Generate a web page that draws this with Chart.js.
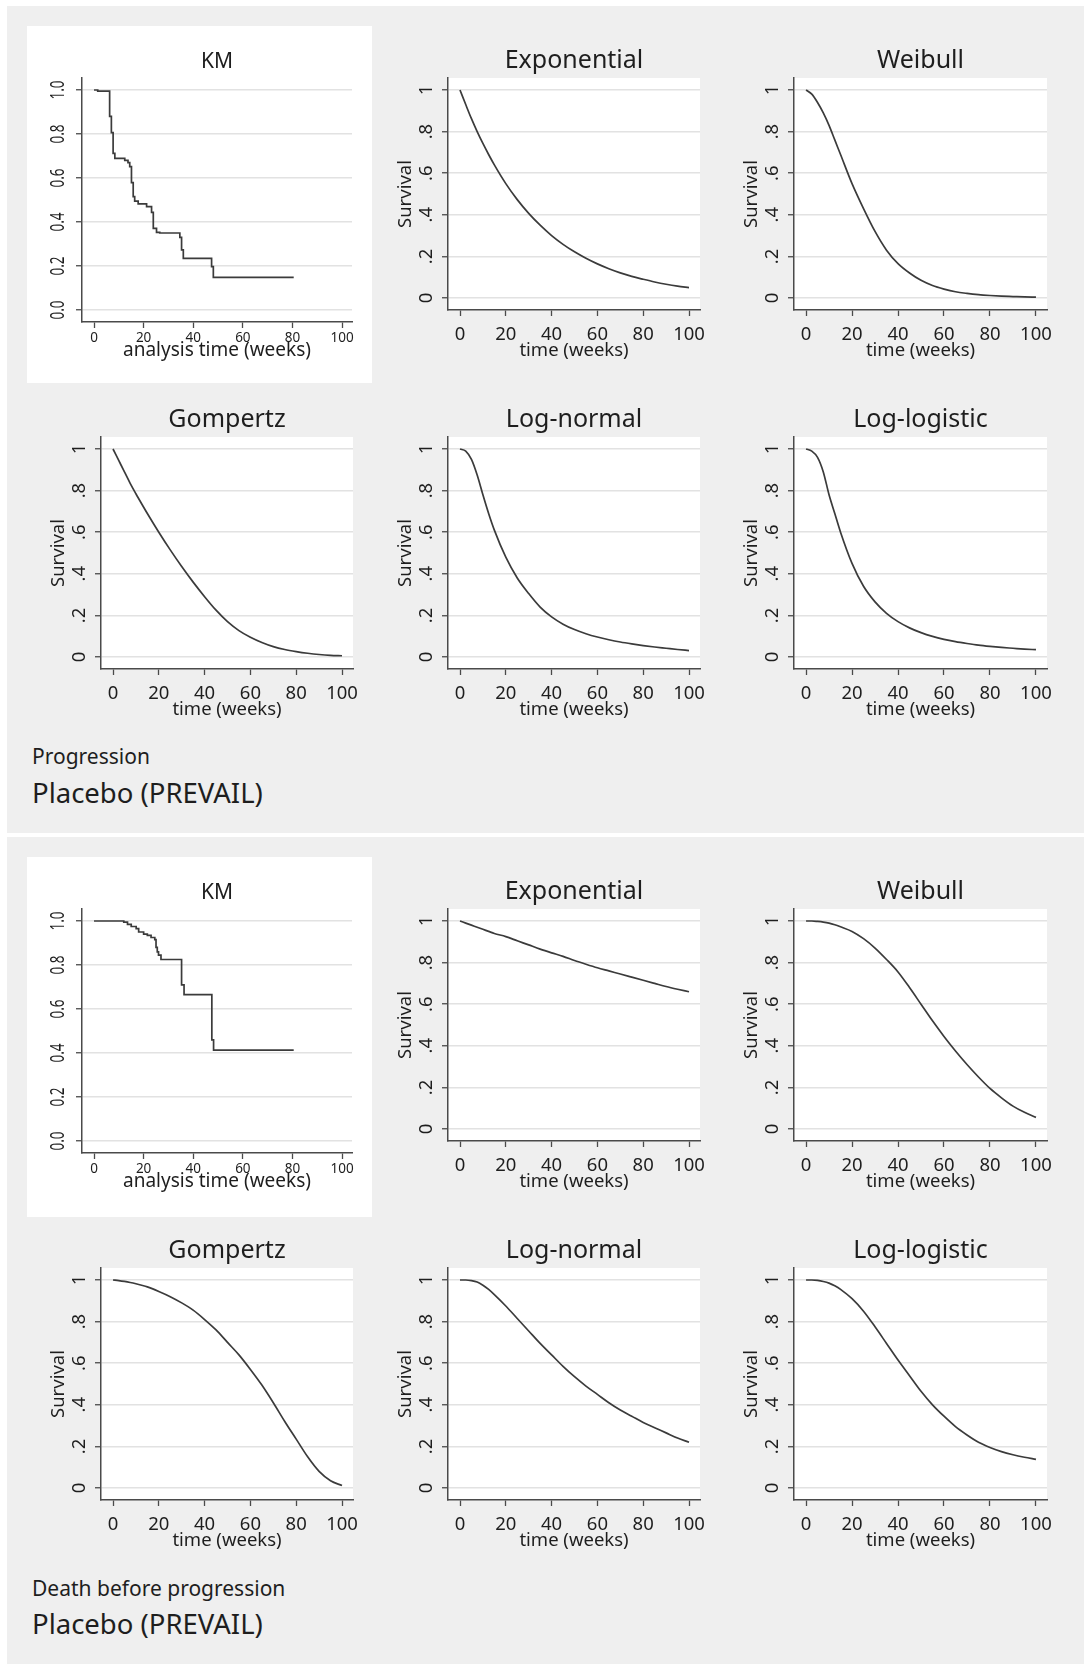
<!DOCTYPE html>
<html>
<head>
<meta charset="utf-8">
<script src="https://cdn.jsdelivr.net/npm/chart.js@4.4.1/dist/chart.umd.min.js"></script>
<style>
  html, body { margin: 0; padding: 0; }
  body { position: relative; width: 1085px; height: 1664px; overflow: hidden; background: #fff; font-family: "Noto Sans", sans-serif; }
  .section { position: absolute; left: 7px; width: 1077px; background: #efefef; }
  .kmbox { position: absolute; left: 27px; width: 345px; background: #fff; }
  .cap { position: absolute; left: 32px; color: #1e1e1e; white-space: nowrap; line-height: 1; }
  canvas { position: absolute; }
</style>
</head>
<body>
<div class="section" style="top:6px;height:827px"></div>
<div class="section" style="top:837px;height:827px"></div>
<div class="kmbox" style="top:26px;height:357px"></div>
<div class="kmbox" style="top:857px;height:360px"></div>
<div class="cap" style="top:746px;font-size:21px">Progression</div>
<div class="cap" style="top:779px;font-size:27.5px">Placebo (PREVAIL)</div>
<div class="cap" style="top:1578px;font-size:21px">Death before progression</div>
<div class="cap" style="top:1610px;font-size:27.5px">Placebo (PREVAIL)</div>

<script>
// axis ticks
const xTicks = [0, 20, 40, 60, 80, 100];
const yTicks = [0, 0.2, 0.4, 0.6, 0.8, 1];
const fitYLabels = ['0', '.2', '.4', '.6', '.8', '1'];
const kmYLabels = ['0.0', '0.2', '0.4', '0.6', '0.8', '1.0'];

// time grid shared by the fitted curves
const weeks = [0, 2.5, 5, 7.5, 10, 12.5, 15, 20, 25, 30, 35, 40, 45, 50, 55, 60, 65, 70, 75, 80, 85, 90, 95, 100];

// progression - fitted survival
const progExponential = [1, .93, .862, .80, .743, .69, .64, .55, .473, .407, .35, .30, .258, .222, .191, .164, .141, .121, .104, .09, .077, .066, .057, .05];
const progWeibull     = [1, .98, .94, .89, .83, .76, .69, .55, .43, .32, .23, .165, .12, .085, .06, .043, .03, .022, .016, .012, .009, .007, .005, .004];
const progGompertz    = [1, .945, .89, .835, .785, .737, .69, .60, .515, .435, .36, .29, .225, .17, .127, .095, .07, .05, .036, .026, .018, .012, .008, .006];
const progLogNormal   = [1, .99, .95, .875, .78, .69, .61, .48, .38, .305, .24, .193, .158, .132, .112, .096, .083, .072, .063, .055, .048, .042, .036, .031];
const progLogLogistic = [1, .99, .96, .89, .78, .69, .60, .45, .34, .265, .21, .17, .14, .117, .099, .085, .074, .065, .057, .051, .046, .042, .038, .035];

// death before progression - fitted survival
const deathExponential = [1, .99, .98, .97, .96, .95, .94, .925, .905, .885, .865, .847, .83, .81, .792, .775, .76, .745, .73, .715, .70, .685, .672, .66];
const deathWeibull     = [1, 1, .998, .995, .99, .982, .972, .95, .915, .87, .815, .755, .68, .60, .52, .445, .375, .31, .25, .195, .15, .11, .08, .056];
const deathGompertz    = [1, .997, .993, .988, .982, .975, .967, .945, .92, .89, .855, .81, .76, .70, .64, .57, .495, .41, .32, .235, .15, .08, .035, .012];
const deathLogNormal   = [1, 1, .997, .99, .975, .955, .93, .875, .815, .755, .695, .64, .585, .535, .49, .45, .41, .375, .345, .315, .29, .265, .24, .22];
const deathLogLogistic = [1, 1, .998, .993, .985, .972, .955, .91, .85, .775, .695, .615, .54, .465, .40, .345, .295, .255, .22, .195, .175, .16, .148, .138];

// Kaplan-Meier steps: week of each drop and survival after it
const progKmWeeks = [0, 1.5, 6.3, 7.0, 7.7, 8.4, 12.4, 13.7, 14.4, 15.1, 15.8, 16.4, 17.8, 21.2, 23.2, 23.9, 25.2, 26.5, 34.6, 35.3, 36.0, 47.4, 48.1, 80.5];
const progKmSurv  = [1, .995, .88, .806, .712, .689, .68, .67, .652, .579, .515, .495, .482, .47, .444, .371, .353, .35, .33, .273, .235, .197, .148, .148];
const deathKmWeeks = [0, 12, 13.5, 15, 17, 18, 20, 21.5, 23, 24.5, 25, 25.5, 26, 27, 35.3, 36.3, 47.5, 48.2, 80.5];
const deathKmSurv  = [1, .995, .985, .975, .965, .95, .94, .935, .925, .915, .88, .86, .845, .825, .71, .665, .46, .413, .413];

const FONT = 'Noto Sans';
const INK = '#1e1e1e';
const AXIS = '#4a4a4a';
const CURVE = '#3b3b3b';
const GRID = '#e2e2e2';
const M = { l: 80, t: 70, r: 14, b: 62 };

// white plot region, title, rotated y labels and axis titles
const panelText = {
  id: 'panelText',
  beforeDraw(chart) {
    const { ctx, chartArea: a } = chart;
    ctx.save();
    ctx.fillStyle = '#fff';
    ctx.fillRect(a.left, a.top, a.right - a.left, a.bottom - a.top);
    ctx.restore();
  },
  afterDraw(chart, args, o) {
    const { ctx, chartArea: a, scales } = chart;
    const km = o.km;
    const cx = (a.left + a.right) / 2;
    ctx.save();
    ctx.fillStyle = INK;
    ctx.textAlign = 'center';
    ctx.textBaseline = 'alphabetic';

    ctx.font = (km ? 21 : 25) + 'px "' + FONT + '"';
    ctx.fillText(o.title, cx, a.top - 10);

    const labels = km ? kmYLabels : fitYLabels;
    yTicks.forEach((v, i) => {
      ctx.save();
      ctx.translate(a.left - (km ? 18 : 16), scales.y.getPixelForValue(v));
      ctx.rotate(-Math.PI / 2);
      if (km) ctx.scale(1, 1.5);
      ctx.font = (km ? 13.5 : 18.5) + 'px "' + FONT + '"';
      ctx.fillText(labels[i], 0, 0);
      ctx.restore();
    });

    if (!km) {
      ctx.save();
      ctx.translate(a.left - 37, scales.y.getPixelForValue(0.5));
      ctx.rotate(-Math.PI / 2);
      ctx.font = '18.5px "' + FONT + '"';
      ctx.fillText('Survival', 0, 0);
      ctx.restore();
    }

    ctx.font = (km ? 19 : 18.5) + 'px "' + FONT + '"';
    ctx.fillText(km ? 'analysis time (weeks)' : 'time (weeks)', cx, a.bottom + (km ? 34 : 46));
    ctx.restore();
  }
};

function addPanel(area, title, times, surv, km) {
  const cv = document.createElement('canvas');
  const w = area.w + M.l + M.r, h = area.h + M.t + M.b;
  cv.width = w;
  cv.height = h;
  cv.style.left = (area.x - M.l) + 'px';
  cv.style.top = (area.y - M.t) + 'px';
  cv.style.width = w + 'px';
  cv.style.height = h + 'px';
  document.body.appendChild(cv);

  const xr = km ? [-4.84, 104] : [-5.24, 104.8];
  const yr = km ? [-0.0545, 1.0545] : [-0.0577, 1.0577];

  new Chart(cv, {
    type: 'line',
    data: {
      datasets: [{
        data: times.map((t, i) => ({ x: t, y: surv[i] })),
        borderColor: CURVE,
        borderWidth: 1.7,
        pointRadius: 0,
        fill: false,
        stepped: km ? 'before' : false,
        cubicInterpolationMode: km ? 'default' : 'monotone'
      }]
    },
    options: {
      responsive: false,
      animation: false,
      devicePixelRatio: 1,
      layout: { padding: { left: 0, top: M.t, right: M.r, bottom: 0 } },
      plugins: {
        legend: { display: false },
        tooltip: { enabled: false },
        panelText: { title: title, km: km }
      },
      scales: {
        x: {
          type: 'linear', min: xr[0], max: xr[1],
          afterBuildTicks: s => { s.ticks = xTicks.map(v => ({ value: v })); },
          afterFit: s => { s.height = M.b; },
          grid: { drawOnChartArea: false, tickLength: 6, tickColor: AXIS, tickWidth: 1.3 },
          border: { color: AXIS, width: 1.5 },
          ticks: {
            color: INK, font: { family: FONT, size: km ? 13.5 : 18.5 },
            padding: km ? 2 : 8, maxRotation: 0, autoSkip: false,
            callback: v => String(v)
          }
        },
        y: {
          type: 'linear', min: yr[0], max: yr[1],
          afterBuildTicks: s => { s.ticks = yTicks.map(v => ({ value: v })); },
          afterFit: s => { s.width = M.l; },
          grid: { color: GRID, lineWidth: 1.5, tickLength: 6, tickColor: AXIS, tickWidth: 1.3 },
          border: { color: AXIS, width: 1.5 },
          ticks: { display: false }
        }
      }
    },
    plugins: [panelText]
  });
}

const cols = [101, 448, 794];
const FW = 252, FH = 232;

[
  { dy: 0, kmW: progKmWeeks, kmS: progKmSurv,
    fits: [progExponential, progWeibull, progGompertz, progLogNormal, progLogLogistic] },
  { dy: 831, kmW: deathKmWeeks, kmS: deathKmSurv,
    fits: [deathExponential, deathWeibull, deathGompertz, deathLogNormal, deathLogLogistic] }
].forEach(sec => {
  const r1 = 78 + sec.dy, r2 = 437 + sec.dy;
  addPanel({ x: 82, y: r1, w: 270, h: 244 }, 'KM', sec.kmW, sec.kmS, true);
  addPanel({ x: cols[1], y: r1, w: FW, h: FH }, 'Exponential', weeks, sec.fits[0], false);
  addPanel({ x: cols[2], y: r1, w: FW + 1, h: FH }, 'Weibull', weeks, sec.fits[1], false);
  addPanel({ x: cols[0], y: r2, w: FW, h: FH }, 'Gompertz', weeks, sec.fits[2], false);
  addPanel({ x: cols[1], y: r2, w: FW, h: FH }, 'Log-normal', weeks, sec.fits[3], false);
  addPanel({ x: cols[2], y: r2, w: FW + 1, h: FH }, 'Log-logistic', weeks, sec.fits[4], false);
});
</script>
</body>
</html>
